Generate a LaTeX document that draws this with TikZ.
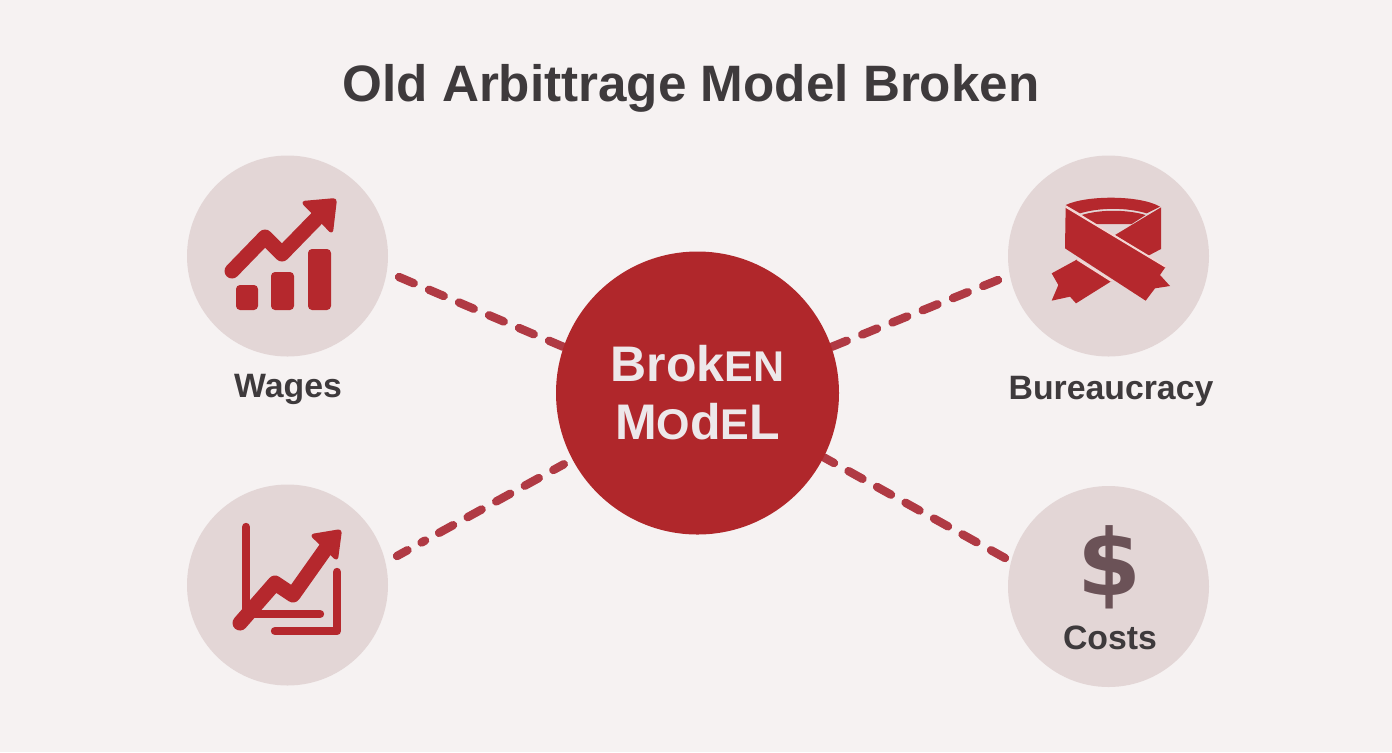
\documentclass[tikz,border=0pt]{standalone}
\usepackage{fontspec}
\setmainfont{Liberation Sans}
\newfontfamily\dollarfont{DejaVu Sans}
\usetikzlibrary{positioning}
\usetikzlibrary{backgrounds}
\definecolor{pagebg}{HTML}{F6F2F2}
\definecolor{discbg}{HTML}{E3D6D6}
\definecolor{hubred}{HTML}{B0272B}
\definecolor{hubtext}{HTML}{EDE8EA}
\definecolor{iconred}{HTML}{B5282D}
\definecolor{linkred}{HTML}{B03A44}
\definecolor{inktext}{HTML}{3E3A3C}
\definecolor{dollarink}{HTML}{6B5257}
\definecolor{ribbonline}{HTML}{F3D5D3}
\newcommand{\smallglyph}[1]{{\fontsize{21.5}{21.5}\selectfont #1}}
\begin{document}
\begin{tikzpicture}[x=0.5pt,y=-0.5pt,
  disc/.style={circle,fill=discbg,inner sep=0pt,minimum size=100.5pt},
  hub/.style={circle,fill=hubred,inner sep=0pt,minimum size=141.5pt,text=hubtext,align=center,font=\bfseries\fontsize{25}{30}\selectfont},
  tag/.style={text=inktext,inner sep=0pt,font=\bfseries\fontsize{16.9}{20}\selectfont},
  link/.style={draw=linkred,line width=4.2pt,line cap=round,dash pattern=on 8pt off 8.3pt},
  bar/.style={fill=iconred,rounded corners=2pt},
  trend/.style={draw=iconred,line width=7.5pt,line join=round,line cap=round},
  axis/.style={draw=iconred,line width=4.2pt,line cap=round,line join=round},
  tip/.style={fill=iconred,draw=iconred,line width=1pt,rounded corners=1.5pt,line join=round}]
\useasboundingbox (0,0) rectangle (1392,752);
\node[text=inktext,inner sep=0pt,font=\bfseries\fontsize{25.6}{30}\selectfont] (title) at (691,88) {Old Arbittrage Model Broken};

\node[hub] (broken) at (697.5,393) {Brok\smallglyph{EN}\\[-1pt]M\smallglyph{O}d\smallglyph{E}L};
\node[disc] (wages) at (287.5,256) {};
\node[disc] (growth) at (287.5,585) {};
\node[disc] (bureau) at (1108.5,256) {};
\node[disc] (costs) at (1108.5,586.5) {};

\node[tag] (wageslabel) at (288,389) {Wages};
\node[tag] (bureaulabel) at (1111,391) {Bureaucracy};
\node[tag] (costslabel) at (1110,638) {Costs};
\node[text=dollarink,inner sep=0pt,font=\dollarfont\bfseries\fontsize{46}{46}\selectfont] (dollar) at (1109,567) {\$};

\coordinate (wagesend) at (399,277);
\coordinate (growthend) at (397,556);
\coordinate (bureauend) at (998,280);
\coordinate (costsend) at (1005,558);

\begin{scope}[on background layer]
\fill[pagebg] (0,0) rectangle (1392,752);
\draw[link] (wagesend) -- (broken.161);
\draw[link,dash pattern=on 6pt off 8pt on 2pt off 8pt on 8pt off 8.3pt on 8pt off 8.3pt on 8pt off 8.3pt on 8pt off 8.3pt] (growthend) -- (broken.208);
\draw[link] (bureauend) -- (broken.19);
\draw[link] (costsend) -- (broken.-27);
\end{scope}

% wages icon
\fill[bar] (236,285) rectangle (258,310);
\fill[bar] (271,272) rectangle (294,310);
\fill[bar] (308,249) rectangle (331,310);
\draw[trend] (232,271) -- (265,237) -- (282,254) -- (320,215);
\fill[tip] (302,202) -- (336,199) -- (332,233) -- cycle;

% growth icon
\draw[axis] (246,527) -- (246,617);
\draw[axis] (250,614) -- (320,614);
\draw[axis] (275,631) -- (337,631) -- (337,572);
\draw[trend] (240,623) -- (275,583) -- (293,595) -- (327,547);
\fill[tip] (311,535) -- (341,530) -- (337,560) -- cycle;

% ribbon icon
\begin{scope}[shift={(1000,150)},scale=1/3]
\fill[iconred] (197,165) .. controls (260,135) and (420,135) .. (480,170) -- (440,190) .. controls (380,172) and (300,172) .. (240,190) -- cycle;
\fill[iconred] (245,195) .. controls (300,178) and (380,178) .. (437,195) -- (395,222) -- (285,222) -- cycle;
\fill[iconred] (483,172) -- (483,297) -- (445,317) -- (345,255) -- cycle;
\fill[iconred] (232,328) -- (335,393) -- (228,460) -- (210,440) -- (155,452) -- (175,405) -- (155,370) -- cycle;
\fill[iconred] (197,170) -- (497,350) -- (480,375) -- (510,408) -- (465,415) -- (437,452) -- (195,295) -- cycle;
\draw[ribbonline,line width=1pt] (197,170) -- (497,350);
\draw[ribbonline,line width=1pt] (232,328) -- (335,393);
\end{scope}
\end{tikzpicture}
\end{document}
